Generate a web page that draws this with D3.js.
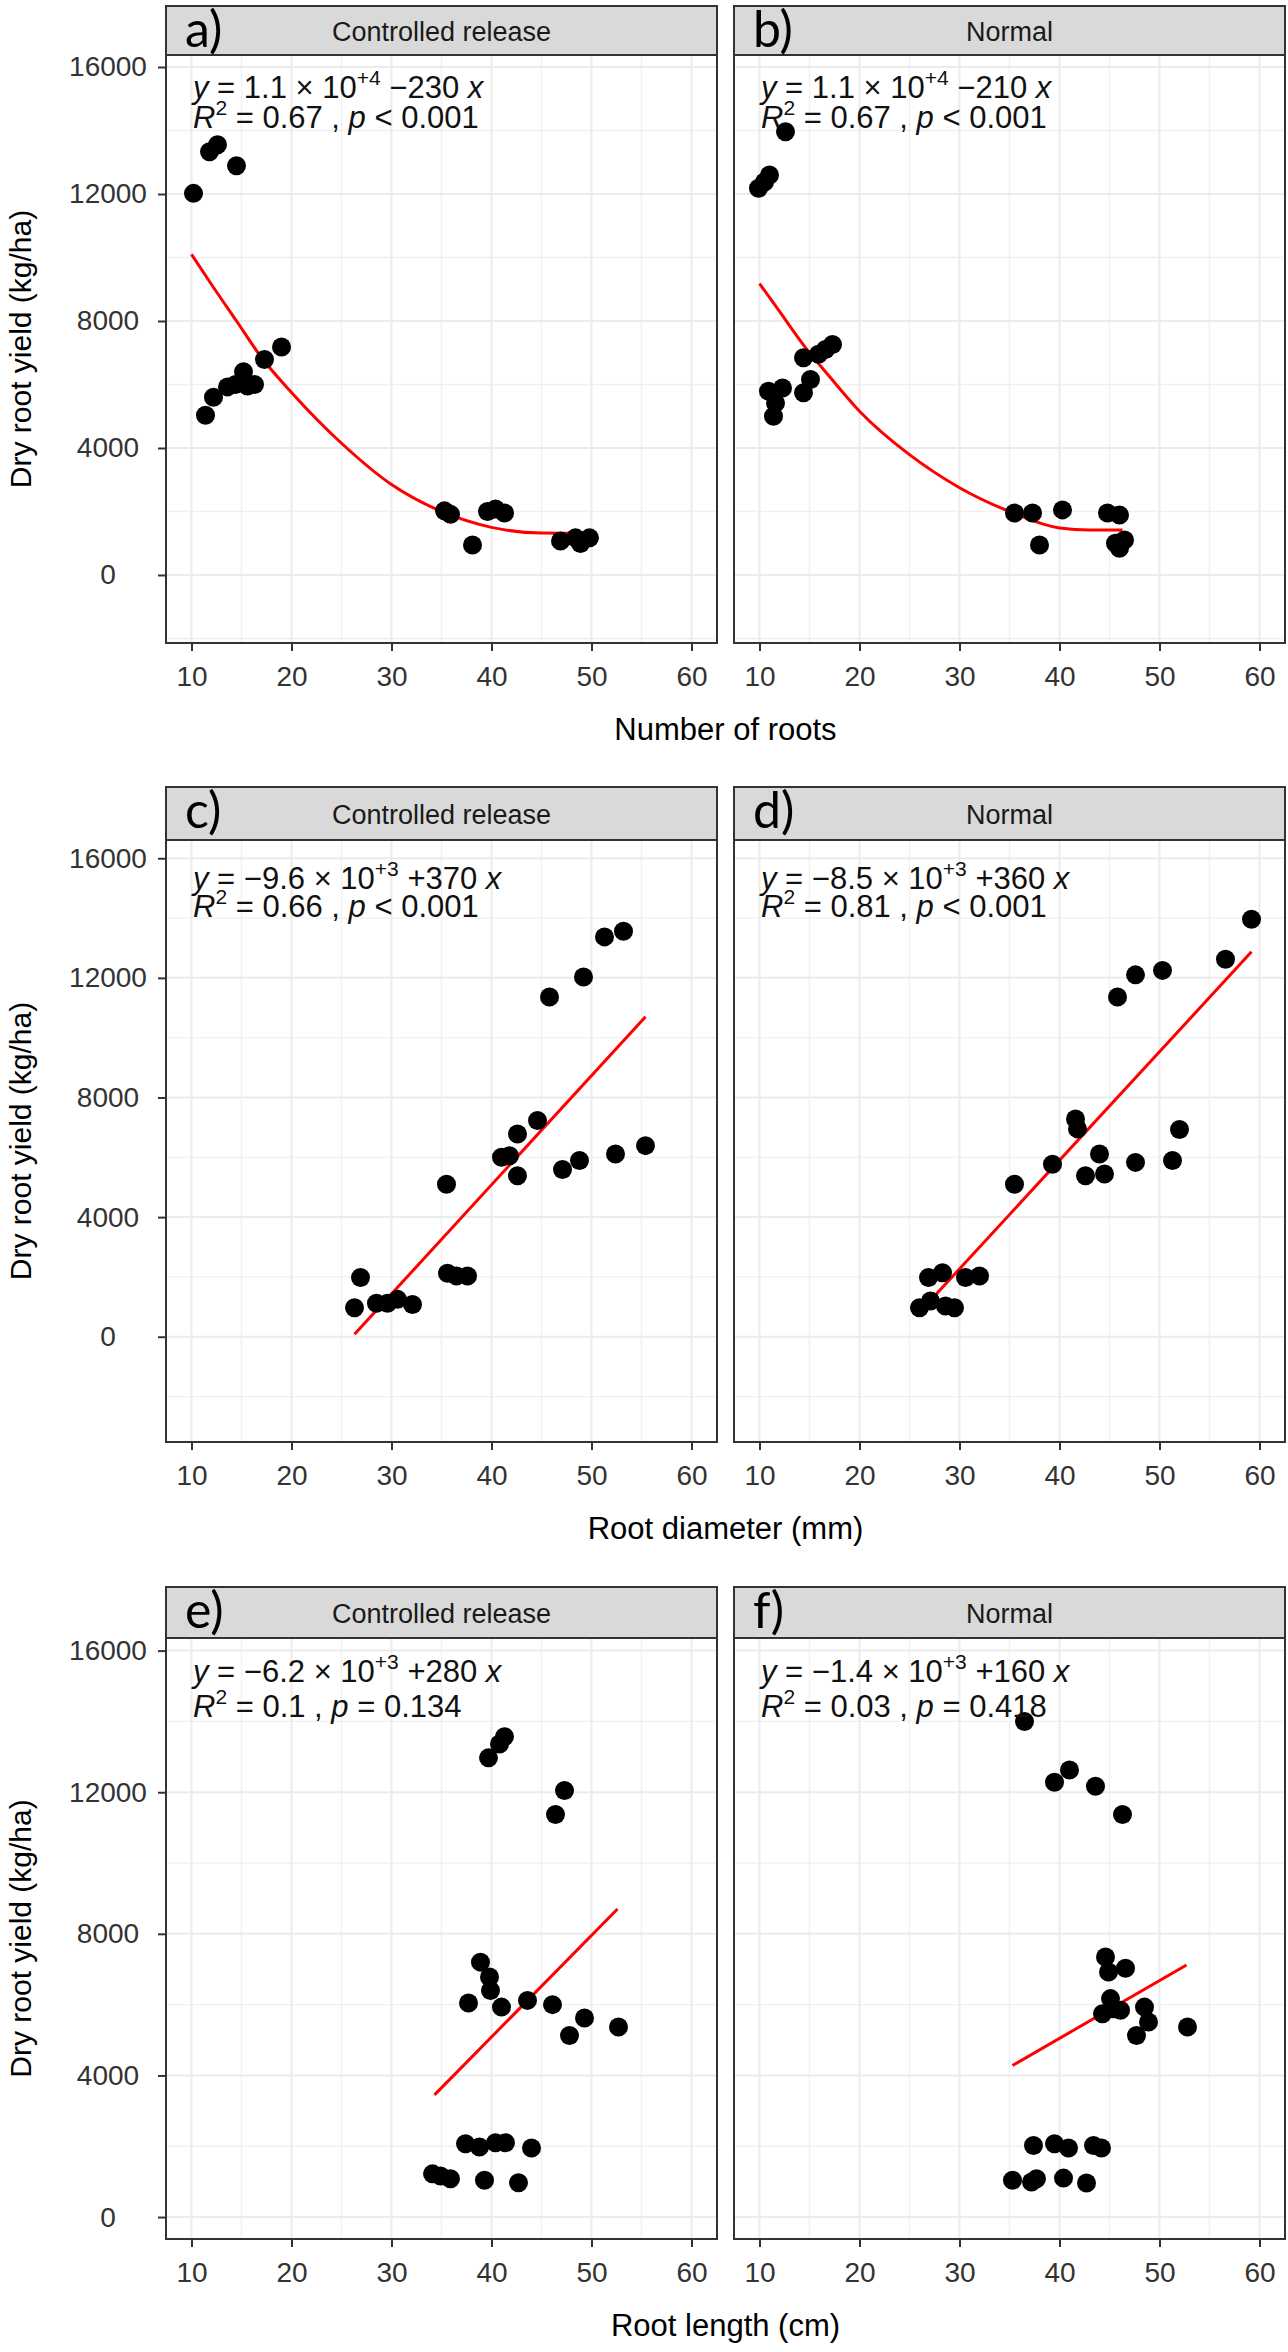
<!DOCTYPE html>
<html>
<head>
<meta charset="utf-8">
<script src="https://cdn.jsdelivr.net/npm/d3@7"></script>
<style>
  body { margin: 0; background: #fff; }
</style>
</head>
<body>
<svg width="1288" height="2352"></svg>
<script>
// ---------- values ----------
const treatments = ["Controlled release", "Normal"];
const panelLetters = [["a)", "b)"], ["c)", "d)"], ["e)", "f)"]];
const xTitles = ["Number of roots", "Root diameter (mm)", "Root length (cm)"];
const yTitle = "Dry root yield (kg/ha)";
const xTicks = [10, 20, 30, 40, 50, 60];
const xMinor = [15, 25, 35, 45, 55];
const yTicks = [0, 4000, 8000, 12000, 16000];
const yMinor = [-2000, 2000, 6000, 10000, 14000];
const xLimits = [7.45, 62.55];
const yLimits = [[-2142, 16378], [-3520, 16610], [-620, 16356]];

// a) number of roots - controlled release
const rootsCR_x = [10.2, 11.8, 12.6, 14.5, 11.4, 12.2, 13.6, 14.4, 15.2, 15.6, 16.3, 17.3, 19.0, 35.3, 35.9, 38.1, 39.6, 40.4, 41.3, 46.9, 48.4, 48.9, 49.8];
const rootsCR_y = [12020, 13330, 13550, 12890, 5030, 5600, 5925, 6000, 6400, 5950, 6000, 6790, 7180, 2020, 1910, 945, 2000, 2080, 1950, 1070, 1170, 990, 1170];
const rootsCR_fitX = [10, 12, 14.5, 17, 20, 25, 30, 35, 40, 45, 49.8];
const rootsCR_fitY = [10100, 9150, 8000, 6850, 5750, 4150, 2850, 2000, 1500, 1320, 1310];

// b) number of roots - normal
const rootsN_x = [9.9, 10.5, 11.0, 12.6, 10.9, 12.3, 11.6, 11.4, 14.4, 15.1, 14.4, 15.9, 17.3, 16.6, 35.5, 37.3, 38.0, 40.3, 44.8, 46.0, 45.6, 46.5, 46.0];
const rootsN_y = [12180, 12380, 12600, 13960, 5790, 5890, 5420, 5000, 5740, 6160, 6840, 6950, 7260, 7100, 1950, 1950, 945, 2050, 1950, 1890, 1000, 1100, 840];
const rootsN_fitX = [10, 12, 14.6, 17, 20, 25, 30, 35, 40, 43, 46.3];
const rootsN_fitY = [9180, 8300, 7160, 6250, 5160, 3790, 2750, 2000, 1480, 1420, 1420];

// c) root diameter - controlled release
const diamCR_x = [26.3, 26.9, 28.5, 29.6, 30.6, 32.1, 35.5, 35.6, 36.5, 37.6, 41.0, 41.8, 42.6, 42.6, 44.6, 45.8, 47.1, 48.8, 49.2, 51.3, 53.2, 52.4, 55.4];
const diamCR_y = [970, 1980, 1120, 1120, 1250, 1080, 5100, 2120, 2030, 2030, 6000, 6050, 6780, 5380, 7230, 11360, 5590, 5890, 12030, 13370, 13560, 6110, 6390];
const diamCR_fitX = [26.3, 55.4];
const diamCR_fitY = [80, 10700];

// d) root diameter - normal
const diamN_x = [26.0, 27.1, 26.9, 28.3, 28.6, 29.5, 30.6, 32.0, 35.5, 39.3, 41.6, 41.8, 42.6, 44.0, 44.5, 45.8, 47.6, 47.6, 50.3, 51.3, 52.0, 56.6, 59.2];
const diamN_y = [970, 1195, 1980, 2140, 1030, 970, 1980, 2030, 5100, 5770, 7280, 6950, 5380, 6110, 5440, 11360, 12100, 5830, 12250, 5890, 6930, 12620, 13960];
const diamN_fitX = [27.5, 59.2];
const diamN_fitY = [1360, 12870];

// e) root length - controlled release
const lengthCR_x = [41.3, 40.8, 39.7, 47.3, 46.4, 38.9, 39.8, 39.9, 37.7, 41.0, 43.6, 46.1, 49.3, 47.8, 52.7, 34.1, 34.9, 35.9, 39.3, 42.7, 37.4, 38.8, 40.4, 41.4, 44.0];
const lengthCR_y = [13570, 13360, 12970, 12050, 11370, 7200, 6780, 6400, 6045, 5930, 6120, 6000, 5620, 5130, 5370, 1220, 1160, 1080, 1040, 970, 2070, 1980, 2100, 2100, 1950];
const lengthCR_fitX = [34.3, 52.6];
const lengthCR_fitY = [3450, 8700];

// f) root length - normal
const lengthN_x = [36.5, 41.0, 39.5, 43.6, 46.3, 44.6, 46.6, 44.9, 45.1, 44.3, 46.1, 45.4, 48.5, 48.9, 47.7, 52.8, 37.4, 39.5, 40.9, 43.4, 44.2, 35.3, 37.7, 37.2, 40.4, 42.7];
const lengthN_y = [14000, 12630, 12280, 12170, 11370, 7345, 7030, 6920, 6170, 5740, 5840, 5885, 5930, 5510, 5130, 5370, 2020, 2070, 1950, 2020, 1950, 1040, 1080, 990, 1100, 960];
const lengthN_fitX = [35.3, 52.7];
const lengthN_fitY = [4280, 7120];

// equation labels
const eqIntercept = ["1.1", "1.1", "\u22129.6", "\u22128.5", "\u22126.2", "\u22121.4"];
const eqExponent = ["+4", "+4", "+3", "+3", "+3", "+3"];
const eqSlope = ["\u2212230", "\u2212210", "+370", "+360", "+280", "+160"];
const eqR2 = ["0.67", "0.67", "0.66", "0.81", "0.1", "0.03"];
const eqP = ["< 0.001", "< 0.001", "< 0.001", "< 0.001", "= 0.134", "= 0.418"];

// panel table built from the arrays above
const panels = [
  {row: 0, col: 0, x: rootsCR_x, y: rootsCR_y, fx: rootsCR_fitX, fy: rootsCR_fitY, curved: true},
  {row: 0, col: 1, x: rootsN_x, y: rootsN_y, fx: rootsN_fitX, fy: rootsN_fitY, curved: true},
  {row: 1, col: 0, x: diamCR_x, y: diamCR_y, fx: diamCR_fitX, fy: diamCR_fitY, curved: false},
  {row: 1, col: 1, x: diamN_x, y: diamN_y, fx: diamN_fitX, fy: diamN_fitY, curved: false},
  {row: 2, col: 0, x: lengthCR_x, y: lengthCR_y, fx: lengthCR_fitX, fy: lengthCR_fitY, curved: false},
  {row: 2, col: 1, x: lengthN_x, y: lengthN_y, fx: lengthN_fitX, fy: lengthN_fitY, curved: false}
];

// ---------- layout ----------
const rowBox = [
  {stripTop: 6, top: 55, bottom: 643, eq: [43, 73]},
  {stripTop: 787, top: 840, bottom: 1442, eq: [49, 77]},
  {stripTop: 1587, top: 1638, bottom: 2239, eq: [44, 79]}
];
const colLeft = [166, 734];
const panelW = 551;
const fontMain = "'Liberation Sans', Arial, sans-serif";

const svg = d3.select('svg')

svg.append("rect")
    .attr("width", 1288)
    .attr("height", 2352)
    .attr("fill", "#fff")

panels.forEach((p, i) => {
  const box = rowBox[p.row];
  const left = colLeft[p.col];

  const x = d3.scaleLinear().domain(xLimits).range([left, left + panelW]);
  const y = d3.scaleLinear().domain(yLimits[p.row]).range([box.bottom, box.top]);

  const g = svg.append("g");

  // grid
  g.selectAll(".ymin").data(yMinor.filter(v => v > yLimits[p.row][0])).join("line")
      .attr("x1", left).attr("x2", left + panelW)
      .attr("y1", d => y(d)).attr("y2", d => y(d))
      .attr("stroke", "#F0F0F0").attr("stroke-width", 1.3)
  g.selectAll(".xmin").data(xMinor).join("line")
      .attr("x1", d => x(d)).attr("x2", d => x(d))
      .attr("y1", box.top).attr("y2", box.bottom)
      .attr("stroke", "#F0F0F0").attr("stroke-width", 1.3)
  g.selectAll(".ymaj").data(yTicks).join("line")
      .attr("x1", left).attr("x2", left + panelW)
      .attr("y1", d => y(d)).attr("y2", d => y(d))
      .attr("stroke", "#EBEBEB").attr("stroke-width", 2)
  g.selectAll(".xmaj").data(xTicks).join("line")
      .attr("x1", d => x(d)).attr("x2", d => x(d))
      .attr("y1", box.top).attr("y2", box.bottom)
      .attr("stroke", "#EBEBEB").attr("stroke-width", 2)

  // fitted line
  const line = d3.line()
      .x(d => x(d[0]))
      .y(d => y(d[1]))
      .curve(p.curved ? d3.curveMonotoneX : d3.curveLinear)
  g.append("path")
      .datum(d3.zip(p.fx, p.fy))
      .attr("d", line)
      .attr("fill", "none")
      .attr("stroke", "#FF0000")
      .attr("stroke-width", 3)

  // points
  g.selectAll("circle").data(d3.zip(p.x, p.y)).join("circle")
      .attr("cx", d => x(d[0]))
      .attr("cy", d => y(d[1]))
      .attr("r", 9.5)
      .attr("fill", "#000")

  // equation
  const eq1 = g.append("text")
      .attr("x", left + 27)
      .attr("y", box.top + box.eq[0])
      .attr("font-family", fontMain)
      .attr("font-size", 31)
      .attr("fill", "#111")
  eq1.append("tspan").attr("font-style", "italic").text("y")
  eq1.append("tspan").text(" = " + eqIntercept[i] + " \u00D7 10")
  eq1.append("tspan").attr("font-size", 21).attr("dy", -13).text(eqExponent[i])
  eq1.append("tspan").attr("dy", 13).text(" " + eqSlope[i] + " ")
  eq1.append("tspan").attr("font-style", "italic").text("x")

  const eq2 = g.append("text")
      .attr("x", left + 27)
      .attr("y", box.top + box.eq[1])
      .attr("font-family", fontMain)
      .attr("font-size", 31)
      .attr("fill", "#111")
  eq2.append("tspan").attr("font-style", "italic").text("R")
  eq2.append("tspan").attr("font-size", 21).attr("dy", -13).text("2")
  eq2.append("tspan").attr("dy", 13).text(" = " + eqR2[i] + " , ")
  eq2.append("tspan").attr("font-style", "italic").text("p")
  eq2.append("tspan").text(" " + eqP[i])

  // panel border
  g.append("rect")
      .attr("x", left).attr("y", box.top)
      .attr("width", panelW).attr("height", box.bottom - box.top)
      .attr("fill", "none")
      .attr("stroke", "#333")
      .attr("stroke-width", 2)

  // strip
  g.append("rect")
      .attr("x", left).attr("y", box.stripTop)
      .attr("width", panelW).attr("height", box.top - box.stripTop)
      .attr("fill", "#D9D9D9")
      .attr("stroke", "#333")
      .attr("stroke-width", 2)
  g.append("text")
      .attr("x", left + panelW / 2)
      .attr("y", (box.stripTop + box.top) / 2 + 10)
      .attr("text-anchor", "middle")
      .attr("font-family", fontMain)
      .attr("font-size", 27)
      .attr("fill", "#1A1A1A")
      .text(treatments[p.col])
  g.append("text")
      .attr("x", left + 19)
      .attr("y", box.stripTop + 41)
      .attr("font-family", "Lato, 'Open Sans', sans-serif")
      .attr("font-size", 50)
      .attr("fill", "#000")
      .text(panelLetters[p.row][p.col])

  // x axis
  const xAxis = g.append("g")
      .attr("transform", `translate(0, ${box.bottom})`)
      .call(d3.axisBottom(x).tickValues(xTicks).tickSize(8).tickPadding(15))
  xAxis.select(".domain").remove()
  xAxis.selectAll("line").attr("stroke", "#333").attr("stroke-width", 2)
  xAxis.selectAll("text")
      .attr("font-family", fontMain)
      .attr("font-size", 28)
      .attr("fill", "#333")

  // y axis (left column only)
  if (p.col === 0) {
    const yAxis = g.append("g")
        .attr("transform", `translate(${left}, 0)`)
        .call(d3.axisLeft(y).tickValues(yTicks).tickSize(8).tickFormat(d3.format("d")))
    yAxis.select(".domain").remove()
    yAxis.selectAll("line").attr("stroke", "#333").attr("stroke-width", 2)
    yAxis.selectAll("text")
        .attr("x", 108 - left)
        .attr("text-anchor", "middle")
        .attr("font-family", fontMain)
        .attr("font-size", 28)
        .attr("fill", "#333")

    // y title
    g.append("text")
        .attr("transform", `translate(31, ${(box.top + box.bottom) / 2}) rotate(-90)`)
        .attr("text-anchor", "middle")
        .attr("font-family", fontMain)
        .attr("font-size", 30)
        .attr("fill", "#000")
        .text(yTitle)

    // x title, shared by the row
    svg.append("text")
        .attr("x", (colLeft[0] + colLeft[1] + panelW) / 2)
        .attr("y", box.bottom + 97)
        .attr("text-anchor", "middle")
        .attr("font-family", fontMain)
        .attr("font-size", 31)
        .attr("fill", "#000")
        .text(xTitles[p.row])
  }
});
</script>
</body>
</html>
